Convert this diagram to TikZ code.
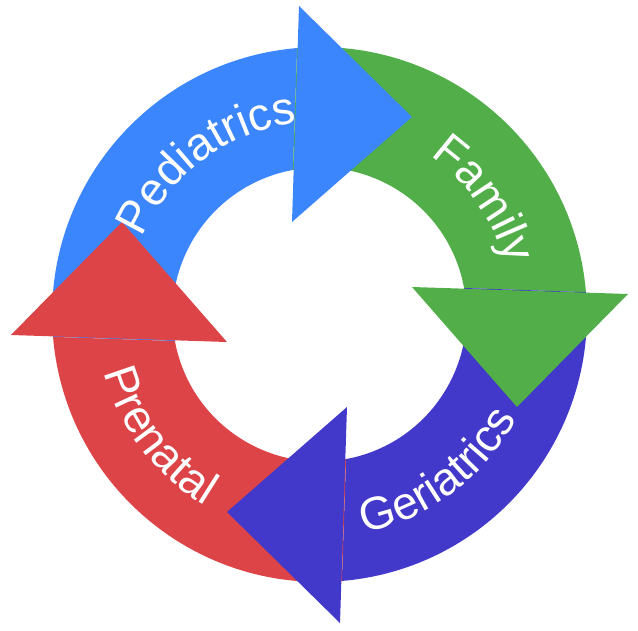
\documentclass[tikz,border=0pt]{standalone}
\usepackage{fontspec}
\setmainfont{Liberation Sans}
\usetikzlibrary{decorations.text}

\definecolor{pedblue}{HTML}{3C86FD}
\definecolor{famgreen}{HTML}{51AE48}
\definecolor{gerblue}{HTML}{4238C9}
\definecolor{prered}{HTML}{DD4447}
\newcommand{\ringfont}{\fontsize{46}{46}\selectfont}

\begin{document}
\begin{tikzpicture}[x=1pt, y=1pt,
	ringtext/.style={decorate, decoration={text along path, text align=center, text color=white, text={|\ringfont|#1}}}]
	\useasboundingbox (-319.5,-315.5) rectangle (318.5,314.5);
	% bodies first, then the heads on top of them
	\foreach \a/\c in {0/pedblue, -90/famgreen, -180/gerblue, -270/prered} {
		\fill[\c, rotate=\a] (184.8:267.4) arc[start angle=184.8, end angle=94.8, radius=267.4] -- (100.4:147) arc[start angle=100.4, end angle=190.4, radius=147] -- cycle;
	}
	\foreach \a/\c in {0/pedblue, -90/famgreen, -180/gerblue, -270/prered} {
		\fill[\c, rotate=\a] (-20.5,308.5) -- (92.5,197.5) -- (-27.5,92.5) -- cycle;
	}
	% labels along the ring
	\path[ringtext=Pediatrics] (176.5:193) arc[start angle=176.5, end angle=76.5, radius=193];
	\path[ringtext=Family] (85:193) arc[start angle=85, end angle=-15, radius=193];
	\path[ringtext=Geriatrics] (-103:223) arc[start angle=-103, end angle=-3, radius=223];
	\path[ringtext=Prenatal] (167:223) arc[start angle=167, end angle=267, radius=223];
\end{tikzpicture}
\end{document}
